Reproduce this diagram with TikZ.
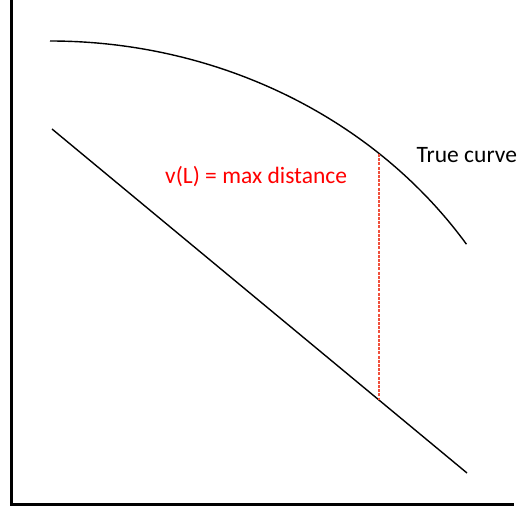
\documentclass[tikz,border=0pt]{standalone}
\usepackage{fontspec}
\setmainfont{Carlito}
\begin{document}
\begin{tikzpicture}[x=1pt,y=-1pt,
  axis/.style={line width=3pt,black},
  curveline/.style={line width=1.4pt,black},
  gapline/.style={line width=1.3pt,color={rgb,255:red,240;green,80;blue,60},dash pattern=on 3pt off 1.2pt},
  lbl/.style={anchor=base west,inner sep=0pt,font=\fontsize{23.5}{28}\selectfont}]
\useasboundingbox (0,0) rectangle (517,508);
% axes
\coordinate (top) at (11,0);
\coordinate (origin) at (11,504.5);
\coordinate (xend) at (514,504.5);
\draw[axis] (top) -- (origin) -- (xend);
% true curve (elliptic arc)
\coordinate (cstart) at (50,41);
\draw[curveline] (cstart) arc[start angle=-90, end angle=-33.6, x radius=500, y radius=455] coordinate (cend);
% straight line
\coordinate (lstart) at (52,129);
\coordinate (lend) at (467,473);
\draw[curveline] (lstart) -- (lend);
% max distance
\coordinate (dtop) at (379,154);
\coordinate (dbot) at (379,400);
\draw[gapline] (dtop) -- (dbot);
\node[lbl,text=red] (vl) at (165,183) {v(L) = max distance};
\node[lbl] (tc) at (416.5,163) {True curve};
\end{tikzpicture}
\end{document}
